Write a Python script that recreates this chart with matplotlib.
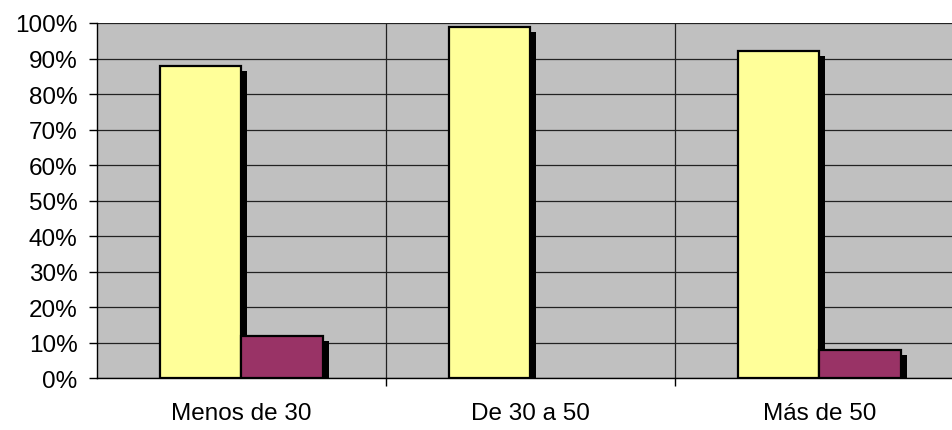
import matplotlib
matplotlib.use("Agg")
import matplotlib.pyplot as plt
import matplotlib.patheffects as pe
import numpy as np

categories = ["Menos de 30", "De 30 a 50", "Más de 50"]
serie_si = [88, 99, 92]
serie_no = [12, 0, 8]
yticks = [0, 10, 20, 30, 40, 50, 60, 70, 80, 90, 100]
ytick_labels = [f"{v}%" for v in yticks]

plt.rcParams['font.family'] = ['Liberation Sans', 'DejaVu Sans']

fig = plt.figure(figsize=(9.53, 4.31), dpi=100)
ax = fig.add_axes([97/953, 51.7/431, 867/953, 355.3/431])
ax.set_facecolor('#C0C0C0')

x = np.arange(len(categories))
w = 0.283
shadow = [pe.SimplePatchShadow(offset=(4.3, -3.6), shadow_rgbFace='black', alpha=1.0), pe.Normal()]

b1 = ax.bar(x - w/2, serie_si, width=w, color='#FFFF99', edgecolor='black', linewidth=1.6, zorder=3)
for p, v in zip(b1, serie_si):
    if v > 0:
        p.set_path_effects(shadow)
    else:
        p.set_visible(False)
b2 = ax.bar(x + w/2, serie_no, width=w, color='#993366', edgecolor='black', linewidth=1.6, zorder=3)
for p, v in zip(b2, serie_no):
    if v > 0:
        p.set_path_effects(shadow)
    else:
        p.set_visible(False)

ax.set_xlim(-0.5, 2.5)
ax.set_ylim(0, 100)
ax.set_yticks(yticks)
ax.set_yticklabels(ytick_labels, fontsize=17.5)
ax.set_xticks(x)
ax.set_xticklabels(categories, fontsize=17.5)
ax.set_xticks([0.5, 1.5, 2.5], minor=True)
ax.tick_params(axis='x', which='major', length=0, pad=17)
ax.tick_params(axis='x', which='minor', length=6, width=1, direction='out', color='black')
ax.tick_params(axis='y', length=6, width=1, direction='out', pad=8, color='black')

ax.grid(axis='y', which='major', color='#222222', linewidth=0.9, zorder=1)
ax.grid(axis='x', which='minor', color='#222222', linewidth=0.9, zorder=1)
ax.set_axisbelow(True)

for s in ['top', 'right']:
    ax.spines[s].set_visible(False)
ax.spines['left'].set_linewidth(1.0)
ax.spines['bottom'].set_linewidth(1.0)
ax.spines['left'].set_zorder(4)
ax.spines['bottom'].set_zorder(4)

fig.savefig("out.png", dpi=100)
